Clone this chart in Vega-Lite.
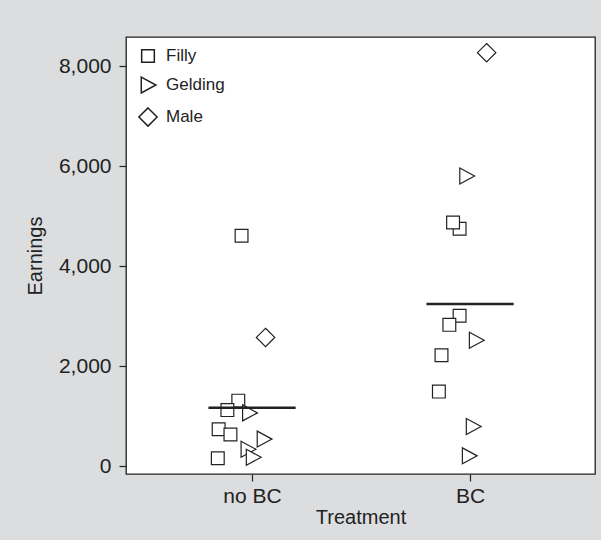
{
  "$schema": "https://vega.github.io/schema/vega-lite/v6.json",
  "width": 469,
  "height": 437,
  "autosize": {"type": "none"},
  "padding": {"left": 126, "top": 37, "right": 6, "bottom": 66},
  "background": "#dcdddf",
  "datasets": {
    "horses": [
      {"Treatment": "no BC", "pos": 0.952, "Earnings": 4604, "Sex": "Filly"},
      {"Treatment": "no BC", "pos": 1.062, "Earnings": 2571, "Sex": "Male"},
      {"Treatment": "no BC", "pos": 0.937, "Earnings": 1307, "Sex": "Filly"},
      {"Treatment": "no BC", "pos": 0.887, "Earnings": 1118, "Sex": "Filly"},
      {"Treatment": "no BC", "pos": 0.988, "Earnings": 1062, "Sex": "Gelding"},
      {"Treatment": "no BC", "pos": 0.847, "Earnings": 734, "Sex": "Filly"},
      {"Treatment": "no BC", "pos": 0.901, "Earnings": 629, "Sex": "Filly"},
      {"Treatment": "no BC", "pos": 1.055, "Earnings": 538, "Sex": "Gelding"},
      {"Treatment": "no BC", "pos": 0.981, "Earnings": 335, "Sex": "Gelding"},
      {"Treatment": "no BC", "pos": 1.005, "Earnings": 175, "Sex": "Gelding"},
      {"Treatment": "no BC", "pos": 0.843, "Earnings": 154, "Sex": "Filly"},
      {"Treatment": "BC", "pos": 2.076, "Earnings": 8266, "Sex": "Male"},
      {"Treatment": "BC", "pos": 1.984, "Earnings": 5799, "Sex": "Gelding"},
      {"Treatment": "BC", "pos": 1.952, "Earnings": 4744, "Sex": "Filly"},
      {"Treatment": "BC", "pos": 1.922, "Earnings": 4870, "Sex": "Filly"},
      {"Treatment": "BC", "pos": 1.952, "Earnings": 3004, "Sex": "Filly"},
      {"Treatment": "BC", "pos": 1.905, "Earnings": 2823, "Sex": "Filly"},
      {"Treatment": "BC", "pos": 2.028, "Earnings": 2515, "Sex": "Gelding"},
      {"Treatment": "BC", "pos": 1.869, "Earnings": 2215, "Sex": "Filly"},
      {"Treatment": "BC", "pos": 1.857, "Earnings": 1488, "Sex": "Filly"},
      {"Treatment": "BC", "pos": 2.014, "Earnings": 790, "Sex": "Gelding"},
      {"Treatment": "BC", "pos": 1.996, "Earnings": 203, "Sex": "Gelding"}
    ],
    "means": [
      {"Treatment": "no BC", "from": 0.8, "to": 1.2, "Mean": 1167},
      {"Treatment": "BC", "from": 1.8, "to": 2.2, "Mean": 3242}
    ]
  },
  "layer": [
    {
      "data": {"name": "horses"},
      "mark": {"type": "point", "filled": true, "fill": "white", "stroke": "#222", "strokeWidth": 1.2, "opacity": 1, "size": 256},
      "encoding": {
        "x": {
          "field": "pos", "type": "quantitative",
          "scale": {"domain": [0.422, 2.573], "nice": false, "zero": false},
          "axis": {"values": [1, 2], "labelExpr": "datum.value == 1 ? 'no BC' : 'BC'", "title": "Treatment", "labelPadding": 4, "titlePadding": 1}
        },
        "y": {
          "field": "Earnings", "type": "quantitative",
          "scale": {"domain": [-160, 8580], "nice": false, "zero": false},
          "axis": {"values": [0, 2000, 4000, 6000, 8000], "format": ",.0f", "title": "Earnings", "labelPadding": 8, "titlePadding": 13}
        },
        "shape": {
          "field": "Sex", "type": "nominal",
          "scale": {"domain": ["Filly", "Gelding", "Male"], "range": ["M-0.8,-0.8L0.8,-0.8L0.8,0.8L-0.8,0.8Z", "M-0.85,-1L1,0L-0.85,1Z", "M0,-1.15L1.15,0L0,1.15L-1.15,0Z"]},
          "legend": {
            "title": null, "orient": "none", "legendX": 13, "legendY": 10, "symbolSize": 250,
            "labelFontSize": 17, "labelColor": "#222", "rowPadding": 8, "padding": 0, "labelOffset": 9,
            "encode": {"symbols": {"update": {"stroke": {"value": "#222"}, "strokeWidth": {"value": 1.2}, "fill": {"value": "white"}, "opacity": {"value": 1}}}}
          }
        }
      }
    },
    {
      "data": {"name": "means"},
      "mark": {"type": "rule", "color": "#222", "strokeWidth": 2.5},
      "encoding": {
        "x": {"field": "from", "type": "quantitative"},
        "x2": {"field": "to"},
        "y": {"field": "Mean", "type": "quantitative"}
      }
    }
  ],
  "config": {
    "font": "Liberation Sans Narrow, Arial Narrow, Liberation Sans, sans-serif",
    "view": {"fill": "white", "stroke": "#222", "strokeWidth": 1.3},
    "axis": {"labelFontSize": 21, "titleFontSize": 20, "labelColor": "#222", "titleColor": "#222", "tickColor": "#222", "tickWidth": 1.2, "domain": false, "grid": false, "tickSize": 7, "titleFontWeight": "normal"}
  }
}
